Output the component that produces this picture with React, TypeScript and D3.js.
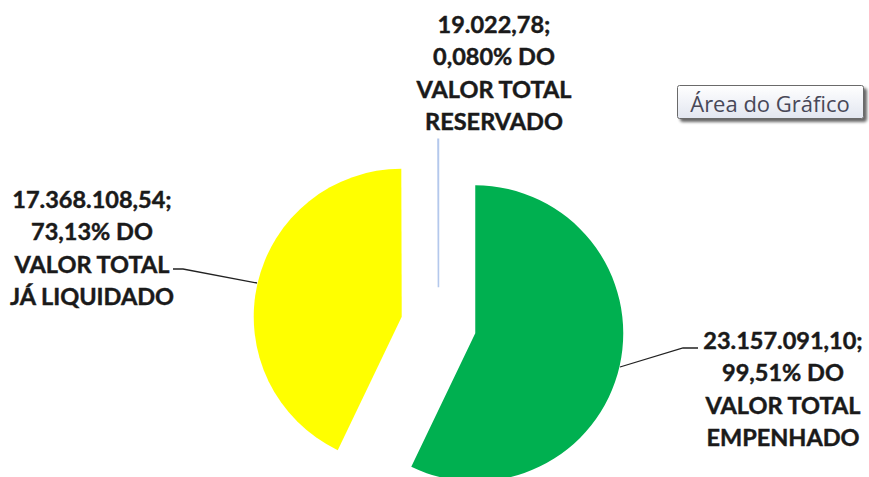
import React from 'react';
import * as d3 from 'd3';

const categories = ['VALOR TOTAL EMPENHADO', 'VALOR TOTAL JÁ LIQUIDADO', 'VALOR TOTAL RESERVADO'];
const values = [23157091.10, 17368108.54, 19022.78];
const valueLabels = ['23.157.091,10;', '17.368.108,54;', '19.022,78;'];
const percentLabels = ['99,51% DO', '73,13% DO', '0,080% DO'];
const nameLines = [['VALOR TOTAL', 'EMPENHADO'], ['VALOR TOTAL', 'JÁ LIQUIDADO'], ['VALOR TOTAL', 'RESERVADO']];
const colors = ['#00B050', '#FFFF00', '#C5D6F0'];
const tooltipText = 'Área do Gráfico';

const W = 869;
const H = 477;

export default function App() {
  const cx = 438.5;
  const cy = 325;
  const r = 148;
  const explode = 37.7;

  const pie = d3.pie<number>().sort(null).value((d) => d);
  const arcs = pie(values);
  const arcGen = d3.arc<d3.PieArcDatum<number>>().innerRadius(0).outerRadius(r);

  const labelPos = [
    { x: 783, y: 349, line: [[620, 367], [683, 348], [698, 348]] },
    { x: 92, y: 208, line: [[173, 269], [183, 269], [257, 283]] },
    { x: 494, y: 33, line: null },
  ];
  const lineGap = 32.3;

  return (
    <svg width={W} height={H} style={{ position: 'absolute', left: 0, top: 0, background: '#fff' }}>
      <defs>
        <linearGradient id="tipg" x1="0" y1="0" x2="0" y2="1">
          <stop offset="0" stopColor="#ffffff" />
          <stop offset="1" stopColor="#e2e6f0" />
        </linearGradient>
        <filter id="shadow" x="-10%" y="-20%" width="130%" height="170%">
          <feGaussianBlur in="SourceAlpha" stdDeviation="1.5" />
          <feOffset dx="3" dy="3" result="o" />
          <feComponentTransfer><feFuncA type="linear" slope="0.6" /></feComponentTransfer>
          <feMerge>
            <feMergeNode />
            <feMergeNode in="SourceGraphic" />
          </feMerge>
        </filter>
      </defs>
      <rect x={0} y={0} width={W} height={H} fill="#fff" />
      {arcs.map((a, i) => {
        const mid = (a.startAngle + a.endAngle) / 2;
        const dx = Math.sin(mid) * explode;
        const dy = -Math.cos(mid) * explode;
        const tiny = a.endAngle - a.startAngle < 0.01;
        return (
          <path
            key={categories[i]}
            d={arcGen(a) || ''}
            transform={`translate(${cx + dx},${cy + dy})`}
            fill={colors[i]}
            stroke={tiny ? '#B4C8EC' : 'none'}
            strokeWidth={tiny ? 1.6 : 0}
          />
        );
      })}
      {labelPos.map((p, i) =>
        p.line ? (
          <polyline
            key={'l' + i}
            points={p.line.map((q) => q.join(',')).join(' ')}
            fill="none"
            stroke="#222"
            strokeWidth={1.3}
          />
        ) : null
      )}
      {labelPos.map((p, i) => {
        const lines = [valueLabels[i], percentLabels[i], ...nameLines[i]];
        return (
          <text
            key={'t' + i}
            textAnchor="middle"
            fontFamily="Lato, 'Open Sans', sans-serif"
            fontWeight={700}
            fontSize={23.5}
            fill="#1a1a1a"
            stroke="#1a1a1a"
            strokeWidth={0.45}
          >
            {lines.map((s, j) => (
              <tspan key={j} x={p.x} y={p.y + j * lineGap}>{s}</tspan>
            ))}
          </text>
        );
      })}
      <g filter="url(#shadow)">
        <rect x={677.5} y={85.5} width={186} height={33} rx={2} fill="url(#tipg)" stroke="#6a6a6a" strokeWidth={1} />
      </g>
      <text x={770} y={111.5} textAnchor="middle" fontFamily="'Open Sans', sans-serif" fontSize={22} fill="#484858">
        {tooltipText}
      </text>
    </svg>
  );
}
